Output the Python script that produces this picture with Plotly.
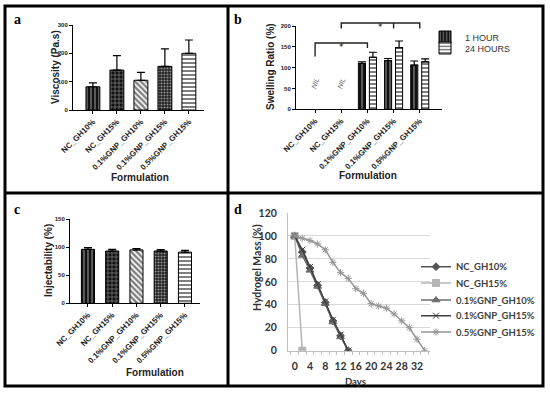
import plotly.graph_objects as go

W, H = 550, 393
def px(x): return x / W
def py(y): return 1 - y / H

# ---------------- data ----------------
cats = ["NC_GH10%", "NC_GH15%", "0.1%GNP_GH10%", "0.1%GNP_GH15%", "0.5%GNP_GH15%"]

viscosity = [82, 141, 105, 154, 200]
viscosity_err = [14, 51, 28, 62, 47]

swell_1h = [None, None, 110, 117, 106]
swell_1h_err = [0, 0, 4, 5, 10]
swell_24h = [None, None, 125, 148, 114]
swell_24h_err = [0, 0, 12, 16, 7]

inject = [96, 93, 95, 93, 91]
inject_err = [3, 3, 2.5, 2.5, 3]

days_nc10 = [0, 2, 4, 6, 8, 10, 12, 14]
mass_nc10 = [100, 86, 72, 57, 42, 26, 13, 0]
days_nc15 = [0, 2]
mass_nc15 = [100, 0]
days_g10 = [0, 2, 4, 6, 8, 10, 12, 14]
mass_g10 = [100, 83, 70, 56, 41, 25, 12, 0]
days_g15 = [0, 2, 4, 6, 8, 10, 12, 14]
mass_g15 = [100, 88, 73, 58, 43, 27, 14, 0]
days_g05 = [0, 2, 4, 6, 8, 10, 12, 14, 16, 18, 20, 22, 24, 26, 28, 30, 32, 34]
mass_g05 = [100, 98, 96, 93, 88, 77, 68, 63, 54, 50, 41, 39, 37, 32, 26, 20, 10, 0]

# bar fill patterns (one per formulation)
bar_shapes = ["|", "+", "\\", ".", "-"]
bar_sizes = [4, 4, 4, 3, 4]
bar_solid = [0.3, 0.3, 0.6, 0.4, 0.5]
bar_fg = ["white", "white", "black", "white", "black"]
bar_bg = ["#111111", "#111111", "white", "#222222", "white"]

zeros = [0] * len(cats)

fig = go.Figure()

def bar_marker(shapes, sizes, solid, fg, bg):
    return dict(color="white", line=dict(color="black", width=1),
                pattern=dict(shape=shapes, size=sizes, solidity=solid,
                             fgcolor=fg, bgcolor=bg, fillmode="overlay"))

def err(arr):
    return dict(type="data", array=arr, arrayminus=zeros, symmetric=False,
                color="black", thickness=1.2, width=4)

# panel a
fig.add_trace(go.Bar(x=cats, y=viscosity, xaxis="x", yaxis="y", width=0.58,
                     marker=bar_marker(bar_shapes, bar_sizes, bar_solid, bar_fg, bar_bg),
                     error_y=err(viscosity_err), showlegend=False))
# panel b
fig.add_trace(go.Bar(x=cats, y=swell_1h, xaxis="x2", yaxis="y2", width=0.27, offset=-0.345,
                     name="1 HOUR", legend="legend",
                     marker=bar_marker("|", 4, 0.3, "white", "#111111"), error_y=err(swell_1h_err)))
fig.add_trace(go.Bar(x=cats, y=swell_24h, xaxis="x2", yaxis="y2", width=0.27, offset=0.075,
                     name="24 HOURS", legend="legend3",
                     marker=bar_marker("-", 4, 0.5, "black", "white"), error_y=err(swell_24h_err)))
# panel c
fig.add_trace(go.Bar(x=cats, y=inject, xaxis="x3", yaxis="y3", width=0.54,
                     marker=bar_marker(bar_shapes, bar_sizes, bar_solid, bar_fg, bar_bg),
                     error_y=err(inject_err), showlegend=False))
# panel d
line_specs = [
    ("NC_GH10%", days_nc10, mass_nc10, "#555555", "diamond", 6),
    ("NC_GH15%", days_nc15, mass_nc15, "#b4b4b4", "square", 7),
    ("0.1%GNP_GH10%", days_g10, mass_g10, "#6e6e6e", "triangle-up", 7),
    ("0.1%GNP_GH15%", days_g15, mass_g15, "#404040", "x-thin-open", 6),
    ("0.5%GNP_GH15%", days_g05, mass_g05, "#959595", "asterisk-open", 6),
]
d_legend_ids = ["legend2", "legend4", "legend5", "legend6", "legend7"]
for (name, xs, ys, col, sym, sz), lid in zip(line_specs, d_legend_ids):
    fig.add_trace(go.Scatter(x=xs, y=ys, xaxis="x4", yaxis="y4", name=name, legend=lid,
                             mode="lines+markers", line=dict(color=col, width=1.5),
                             marker=dict(symbol=sym, size=sz, color=col, line=dict(color=col, width=1))))

tick_font = dict(family="Liberation Sans, Arial", size=8, color="#222", weight="bold")
ytick_font = dict(family="Liberation Sans, Arial", size=6, color="#222", weight="bold")

def gp_x(domain, anchor, rng):
    return dict(domain=domain, anchor=anchor, type="category", range=rng, tickangle=-45,
                tickfont=tick_font, showline=True, linecolor="black", linewidth=1,
                ticks="outside", ticklen=3, tickcolor="black", showgrid=False, zeroline=False,
                fixedrange=True, automargin=False)

def gp_y(domain, anchor, rng, dtick):
    return dict(domain=domain, anchor=anchor, range=rng, dtick=dtick, tickfont=ytick_font,
                showline=True, linecolor="black", linewidth=1, ticks="outside", ticklen=3,
                tickcolor="black", showgrid=False, zeroline=False, fixedrange=True,
                automargin=False)

d_font = dict(family="Lato, Open Sans", size=10.5, color="#333", weight="bold")

b_leg_font = dict(family="Liberation Sans, Arial", size=9, color="#333")
d_leg_font = dict(family="Lato, Open Sans", size=9.5, color="#404040", weight="bold")

def leg(x, y, font):
    return dict(x=px(x), y=py(y), xanchor="left", yanchor="middle", bgcolor="rgba(0,0,0,0)",
                font=font, itemwidth=30, tracegroupgap=0, borderwidth=0)

d_leg_rows = [266.7, 283, 300, 315.7, 332]

layout = dict(
    template="none",
    width=W, height=H, margin=dict(l=0, r=0, t=0, b=0, autoexpand=False),
    paper_bgcolor="white", plot_bgcolor="rgba(0,0,0,0)",
    barmode="group",
    xaxis=gp_x([px(73), px(204)], "y", [-0.83, 4.63]),
    yaxis=gp_y([py(110), py(25)], "x", [0, 300], 100),
    xaxis2=gp_x([px(296), px(442)], "y2", [-0.73, 4.85]),
    yaxis2=gp_y([py(109.3), py(26)], "x2", [0, 200], 50),
    xaxis3=gp_x([px(70), px(200)], "y3", [-0.74, 4.62]),
    yaxis3=gp_y([py(303.3), py(219)], "x3", [0, 150], 50),
    xaxis4=dict(domain=[px(288), px(430)], anchor="y4", range=[-1.75, 35.4],
                tickvals=[0, 4, 8, 12, 16, 20, 24, 28, 32], ticks="", tickfont=d_font,
                ticklabelstandoff=6, automargin=False,
                minor=dict(tickvals=[-1, 1, 3, 5, 7, 9, 11, 13, 15, 17, 19, 21, 23, 25, 27, 29, 31, 33, 35],
                           ticks="outside", ticklen=3, tickcolor="#bfbfbf", showgrid=False),
                showline=True, linecolor="#bfbfbf", showgrid=False, zeroline=False, fixedrange=True),
    yaxis4=dict(domain=[py(350.7), py(213)], anchor="x4", range=[0, 120], dtick=20,
                tickfont=d_font, ticks="", ticklabelstandoff=8, automargin=False,
                showline=True, linecolor="#bfbfbf", showgrid=True, gridcolor="#d9d9d9",
                zeroline=False, fixedrange=True),
    legend=leg(425, 37, b_leg_font),
    legend3=leg(425, 48, b_leg_font),
)
for lid, row in zip(d_legend_ids, d_leg_rows):
    layout[lid] = leg(416, row, d_leg_font)
fig.update_layout(**layout)

# ---- annotations: titles, panel letters, NIL, stars ----
title_font = dict(family="Liberation Sans, Arial", size=10, color="#222", weight="bold")
anns = [
    dict(text="Viscosity (Pa.s)", x=px(55), y=py(67), textangle=-90, font=title_font),
    dict(text="Formulation", x=px(140), y=py(178), font=title_font),
    dict(text="Swelling Ratio (%)", x=px(270), y=py(67), textangle=-90, font=title_font),
    dict(text="Formulation", x=px(368), y=py(175), font=title_font),
    dict(text="Injectability (%)", x=px(48), y=py(261), textangle=-90, font=title_font),
    dict(text="Formulation", x=px(155), y=py(372), font=title_font),
    dict(text="Hydrogel Mass (%)", x=px(257), y=py(268), textangle=-90,
         font=dict(family="Lato, Open Sans", size=10.5, color="#333", weight="bold")),
    dict(text="Days", x=px(355), y=py(381),
         font=dict(family="Lato, Open Sans", size=9.5, color="#333", weight="bold")),
]
letter_font = dict(family="Liberation Serif, DejaVu Serif", size=14, color="black", weight="bold")
for t, x, y in [("a", 17, 19), ("b", 238, 19), ("c", 17, 209), ("d", 238, 209)]:
    anns.append(dict(text=t, x=px(x), y=py(y), font=letter_font))
for a in anns:
    a.update(xref="paper", yref="paper", showarrow=False, xanchor="center", yanchor="middle")

nil_cats = ["NC_GH10%", "NC_GH15%"]
for c in nil_cats:
    anns.append(dict(text="<i>NIL</i>", x=c, y=62, xref="x2", yref="y2", showarrow=False,
                     textangle=-70, font=dict(family="Liberation Sans, Arial", size=7, color="#555")))

# significance brackets (category index positions, pixel heights)
star_x = [1, 2.5]
star_y = [40, 20]
for sx, sy in zip(star_x, star_y):
    anns.append(dict(text="*", x=sx, y=py(sy), xref="x2", yref="paper", showarrow=False,
                     font=dict(family="DejaVu Sans", size=9, color="black")))
fig.update_layout(annotations=anns)

shapes = []
brk = dict(type="path", xref="x2", yref="paper", line=dict(color="#222", width=1.4))
shapes.append(dict(brk, path=f"M 0,{py(56.5)} L 0,{py(43)} L 2,{py(43)} L 2,{py(48)}"))
shapes.append(dict(brk, path=f"M 1,{py(28.5)} L 1,{py(23)} L 4,{py(23)} L 4,{py(28.5)} M 3,{py(23)} L 3,{py(28.5)}"))

# panel borders
bl = dict(color="black", width=3)
shapes.append(dict(type="rect", xref="paper", yref="paper", x0=px(5), x1=px(543), y0=py(386), y1=py(6), line=bl))
shapes.append(dict(type="line", xref="paper", yref="paper", x0=px(228), x1=px(228), y0=py(386), y1=py(6), line=bl))
shapes.append(dict(type="line", xref="paper", yref="paper", x0=px(5), x1=px(543), y0=py(193), y1=py(193), line=bl))
fig.update_layout(shapes=shapes)

fig.write_html("out.html", config={"displayModeBar": False},
               post_script="document.body.style.margin='0';document.body.style.overflow='hidden';")
